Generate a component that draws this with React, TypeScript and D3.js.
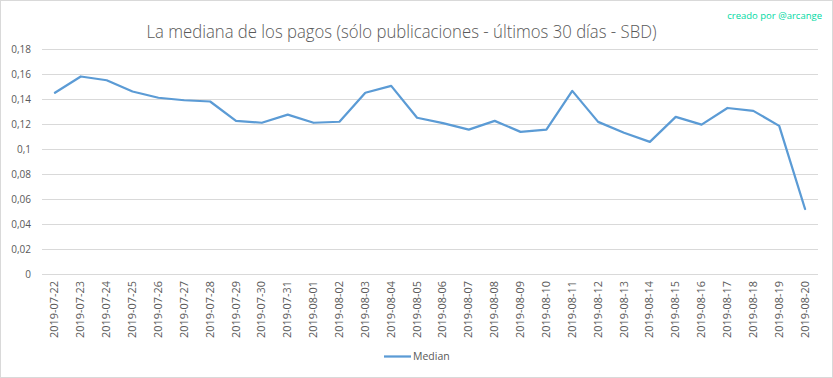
import React from "react";
import * as d3 from "d3";

const dates = [
  "2019-07-22","2019-07-23","2019-07-24","2019-07-25","2019-07-26","2019-07-27","2019-07-28","2019-07-29","2019-07-30","2019-07-31",
  "2019-08-01","2019-08-02","2019-08-03","2019-08-04","2019-08-05","2019-08-06","2019-08-07","2019-08-08","2019-08-09","2019-08-10",
  "2019-08-11","2019-08-12","2019-08-13","2019-08-14","2019-08-15","2019-08-16","2019-08-17","2019-08-18","2019-08-19","2019-08-20",
];
const medianValues = [
  0.145, 0.158, 0.155, 0.146, 0.141, 0.139, 0.138, 0.1225, 0.121, 0.1275,
  0.121, 0.1218, 0.145, 0.1505, 0.125, 0.1207, 0.1155, 0.1225, 0.1137, 0.1155,
  0.1465, 0.1217, 0.113, 0.1057, 0.1257, 0.1195, 0.1328, 0.1305, 0.1185, 0.052,
];
const yTicks = [0, 0.02, 0.04, 0.06, 0.08, 0.1, 0.12, 0.14, 0.16, 0.18];
const seriesName = "Median";
const title = "La mediana de los pagos (sólo publicaciones - últimos 30 días - SBD)";
const watermark = "creado por @arcange";

export default function App() {
  const W = 833, H = 378;
  const left = 42, right = 818, top = 49, bottom = 274;
  const x = d3.scaleBand<string>().domain(dates).range([left, right]);
  const y = d3.scaleLinear().domain([0, 0.18]).range([bottom, top]);
  const line = d3.line<number>()
    .x((_, i) => (x(dates[i]) as number) + x.bandwidth() / 2)
    .y((d) => y(d));
  const fmt = (v: number) => String(+v.toFixed(2)).replace(".", ",");
  const font = "'Open Sans', 'Noto Sans', sans-serif";
  return (
    <svg width={W} height={H} style={{ position: "absolute", left: 0, top: 0, background: "#fff" }} fontFamily={font}>
      <rect x={0.5} y={0.5} width={W - 1} height={H - 1} fill="#fff" stroke="#d9d9d9" />
      <text x={822} y={19} textAnchor="end" fontSize={9.5} fill="#00d9a3" fontFamily="'Liberation Sans Narrow', 'Open Sans', sans-serif">{watermark}</text>
      <text x={401.5} y={38} textAnchor="middle" fontSize={18} fontWeight={300} fill="#595959" textLength={510} lengthAdjust="spacingAndGlyphs">{title}</text>
      {yTicks.map((t) => (
        <g key={t}>
          <line x1={left} x2={right} y1={Math.round(y(t)) + 0.5} y2={Math.round(y(t)) + 0.5} stroke="#d9d9d9" strokeWidth={1} />
          <text x={31} y={y(t) + 3.5} textAnchor="end" fontSize={10} fill="#595959">{fmt(t)}</text>
        </g>
      ))}
      {dates.map((d) => {
        const cx = (x(d) as number) + x.bandwidth() / 2;
        return (
          <text key={d} transform={`translate(${cx + 3.5},${281}) rotate(-90)`} textAnchor="end" fontSize={10} fill="#595959" textLength={57} lengthAdjust="spacingAndGlyphs">{d}</text>
        );
      })}
      <path d={line(medianValues) || ""} fill="none" stroke="#5b9bd5" strokeWidth={2.25} strokeLinejoin="round" strokeLinecap="round" />
      <line x1={384} x2={411} y1={356.5} y2={356.5} stroke="#5b9bd5" strokeWidth={2.25} />
      <text x={413} y={360} fontSize={10.5} fill="#595959">{seriesName}</text>
    </svg>
  );
}
